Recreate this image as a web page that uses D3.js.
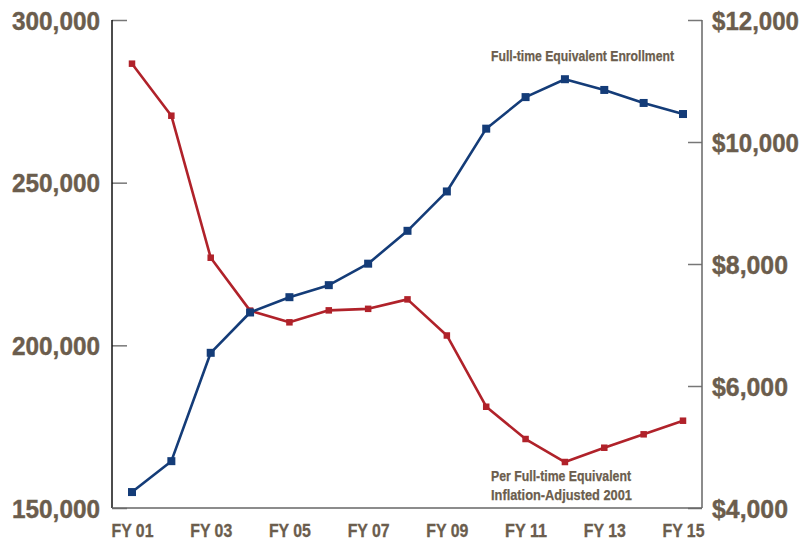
<!DOCTYPE html>
<html><head><meta charset="utf-8">
<script src="https://cdn.jsdelivr.net/npm/d3@7"></script>
<style>
body{margin:0;background:#fff;}
svg{display:block;}
</style></head>
<body>
<svg id="c" width="806" height="542"></svg>
<script>
const years = ["FY 01","FY 02","FY 03","FY 04","FY 05","FY 06","FY 07","FY 08","FY 09","FY 10","FY 11","FY 12","FY 13","FY 14","FY 15"];
const xTickLabels = ["FY 01","FY 03","FY 05","FY 07","FY 09","FY 11","FY 13","FY 15"];
const enrollment = [154900,164400,197700,210100,214800,218500,225100,235200,247300,266600,276300,281800,278500,274500,271100];
const perFTE = [11284,10431,8103,7236,7044,7240,7265,7420,6828,5660,5131,4754,4988,5208,5431];
const leftTicks = [150000,200000,250000,300000];
const rightTicks = [4000,6000,8000,10000,12000];
const enrollmentLabel = "Full-time Equivalent Enrollment";
const perFTELabel = ["Per Full-time Equivalent","Inflation-Adjusted 2001"];

const svg = d3.select("#c");
const textColor = "#6b5d4d";
const blue = "#143c78";
const red = "#b0222a";
const x = d3.scalePoint().domain(years).range([132, 683]);
const yL = d3.scaleLinear().domain([150000,300000]).range([508,20]);
const yR = d3.scaleLinear().domain([4000,12000]).range([508,20]);
const left = 112, right = 702;
const numFont = "'Liberation Sans',Arial,sans-serif";

// left axis
const gL = svg.append("g").attr("transform",`translate(${left},0)`)
  .call(d3.axisRight(yL).tickValues(leftTicks).tickSize(15).tickFormat(d3.format(",")));
gL.select(".domain").remove();
gL.selectAll(".tick line").attr("stroke","#777").attr("stroke-width",1.5);
gL.selectAll(".tick text").attr("x",-12).attr("text-anchor","end").attr("dy","0.36em")
  .attr("fill",textColor).attr("font-family",numFont).attr("stroke",textColor).attr("stroke-width",0.4)
  .attr("font-weight","bold").attr("font-size",25).attr("textLength",88).attr("lengthAdjust","spacingAndGlyphs");

// right axis
const gR = svg.append("g").attr("transform",`translate(${right},0)`)
  .call(d3.axisLeft(yR).tickValues(rightTicks).tickSize(14).tickFormat(d=>"$"+d3.format(",")(d)));
gR.select(".domain").remove();
gR.selectAll(".tick line").attr("stroke","#777").attr("stroke-width",1.5);
gR.selectAll(".tick text").attr("x",10).attr("text-anchor","start").attr("dy","0.36em")
  .attr("fill",textColor).attr("font-family",numFont).attr("stroke",textColor).attr("stroke-width",0.4)
  .attr("font-weight","bold").attr("font-size",25)
  .attr("textLength",d=>d>=10000?87:76).attr("lengthAdjust","spacingAndGlyphs");

// frame lines
svg.append("line").attr("x1",left).attr("x2",left).attr("y1",20).attr("y2",508).attr("stroke","#111").attr("stroke-width",1.5);
svg.append("line").attr("x1",right).attr("x2",right).attr("y1",20).attr("y2",508).attr("stroke","#666").attr("stroke-width",1.5);
svg.append("line").attr("x1",left).attr("x2",right).attr("y1",508).attr("y2",508).attr("stroke","#666").attr("stroke-width",1.5);

// x axis labels
const gX = svg.append("g").attr("transform","translate(0,508)")
  .call(d3.axisBottom(x).tickValues(xTickLabels).tickSize(0).tickPadding(0));
gX.select(".domain").remove();
gX.selectAll(".tick text").attr("y",29).attr("dy",0)
  .attr("fill",textColor).attr("font-family",numFont).attr("stroke",textColor).attr("stroke-width",0.3)
  .attr("font-weight","bold").attr("font-size",18).attr("textLength",42).attr("lengthAdjust","spacingAndGlyphs");

// lines
function drawSeries(vals, y, color, size){
  const line = d3.line().x((d,i)=>x(years[i])).y(d=>y(d));
  svg.append("path").datum(vals).attr("d",line).attr("fill","none")
    .attr("stroke",color).attr("stroke-width",2.6).attr("stroke-linejoin","round");
  svg.append("g").selectAll("rect").data(vals).join("rect")
    .attr("x",(d,i)=>x(years[i])-size/2).attr("y",d=>y(d)-size/2)
    .attr("width",size).attr("height",size).attr("fill",color);
}
drawSeries(perFTE, yR, red, 6.5);
drawSeries(enrollment, yL, blue, 8);

// annotations
svg.append("text").attr("x",491).attr("y",61)
  .attr("fill",textColor).attr("font-family",numFont).attr("font-weight","bold").attr("font-size",15)
  .attr("stroke",textColor).attr("stroke-width",0.25)
  .attr("textLength",183).attr("lengthAdjust","spacingAndGlyphs")
  .text(enrollmentLabel);
svg.append("g").selectAll("text").data(perFTELabel).join("text")
  .attr("x",491).attr("y",(d,i)=>481+i*18.5)
  .attr("fill",textColor).attr("font-family",numFont).attr("font-weight","bold").attr("font-size",15)
  .attr("stroke",textColor).attr("stroke-width",0.25)
  .attr("textLength",(d,i)=>i===0?140:141).attr("lengthAdjust","spacingAndGlyphs")
  .text(d=>d);
</script>
</body></html>
